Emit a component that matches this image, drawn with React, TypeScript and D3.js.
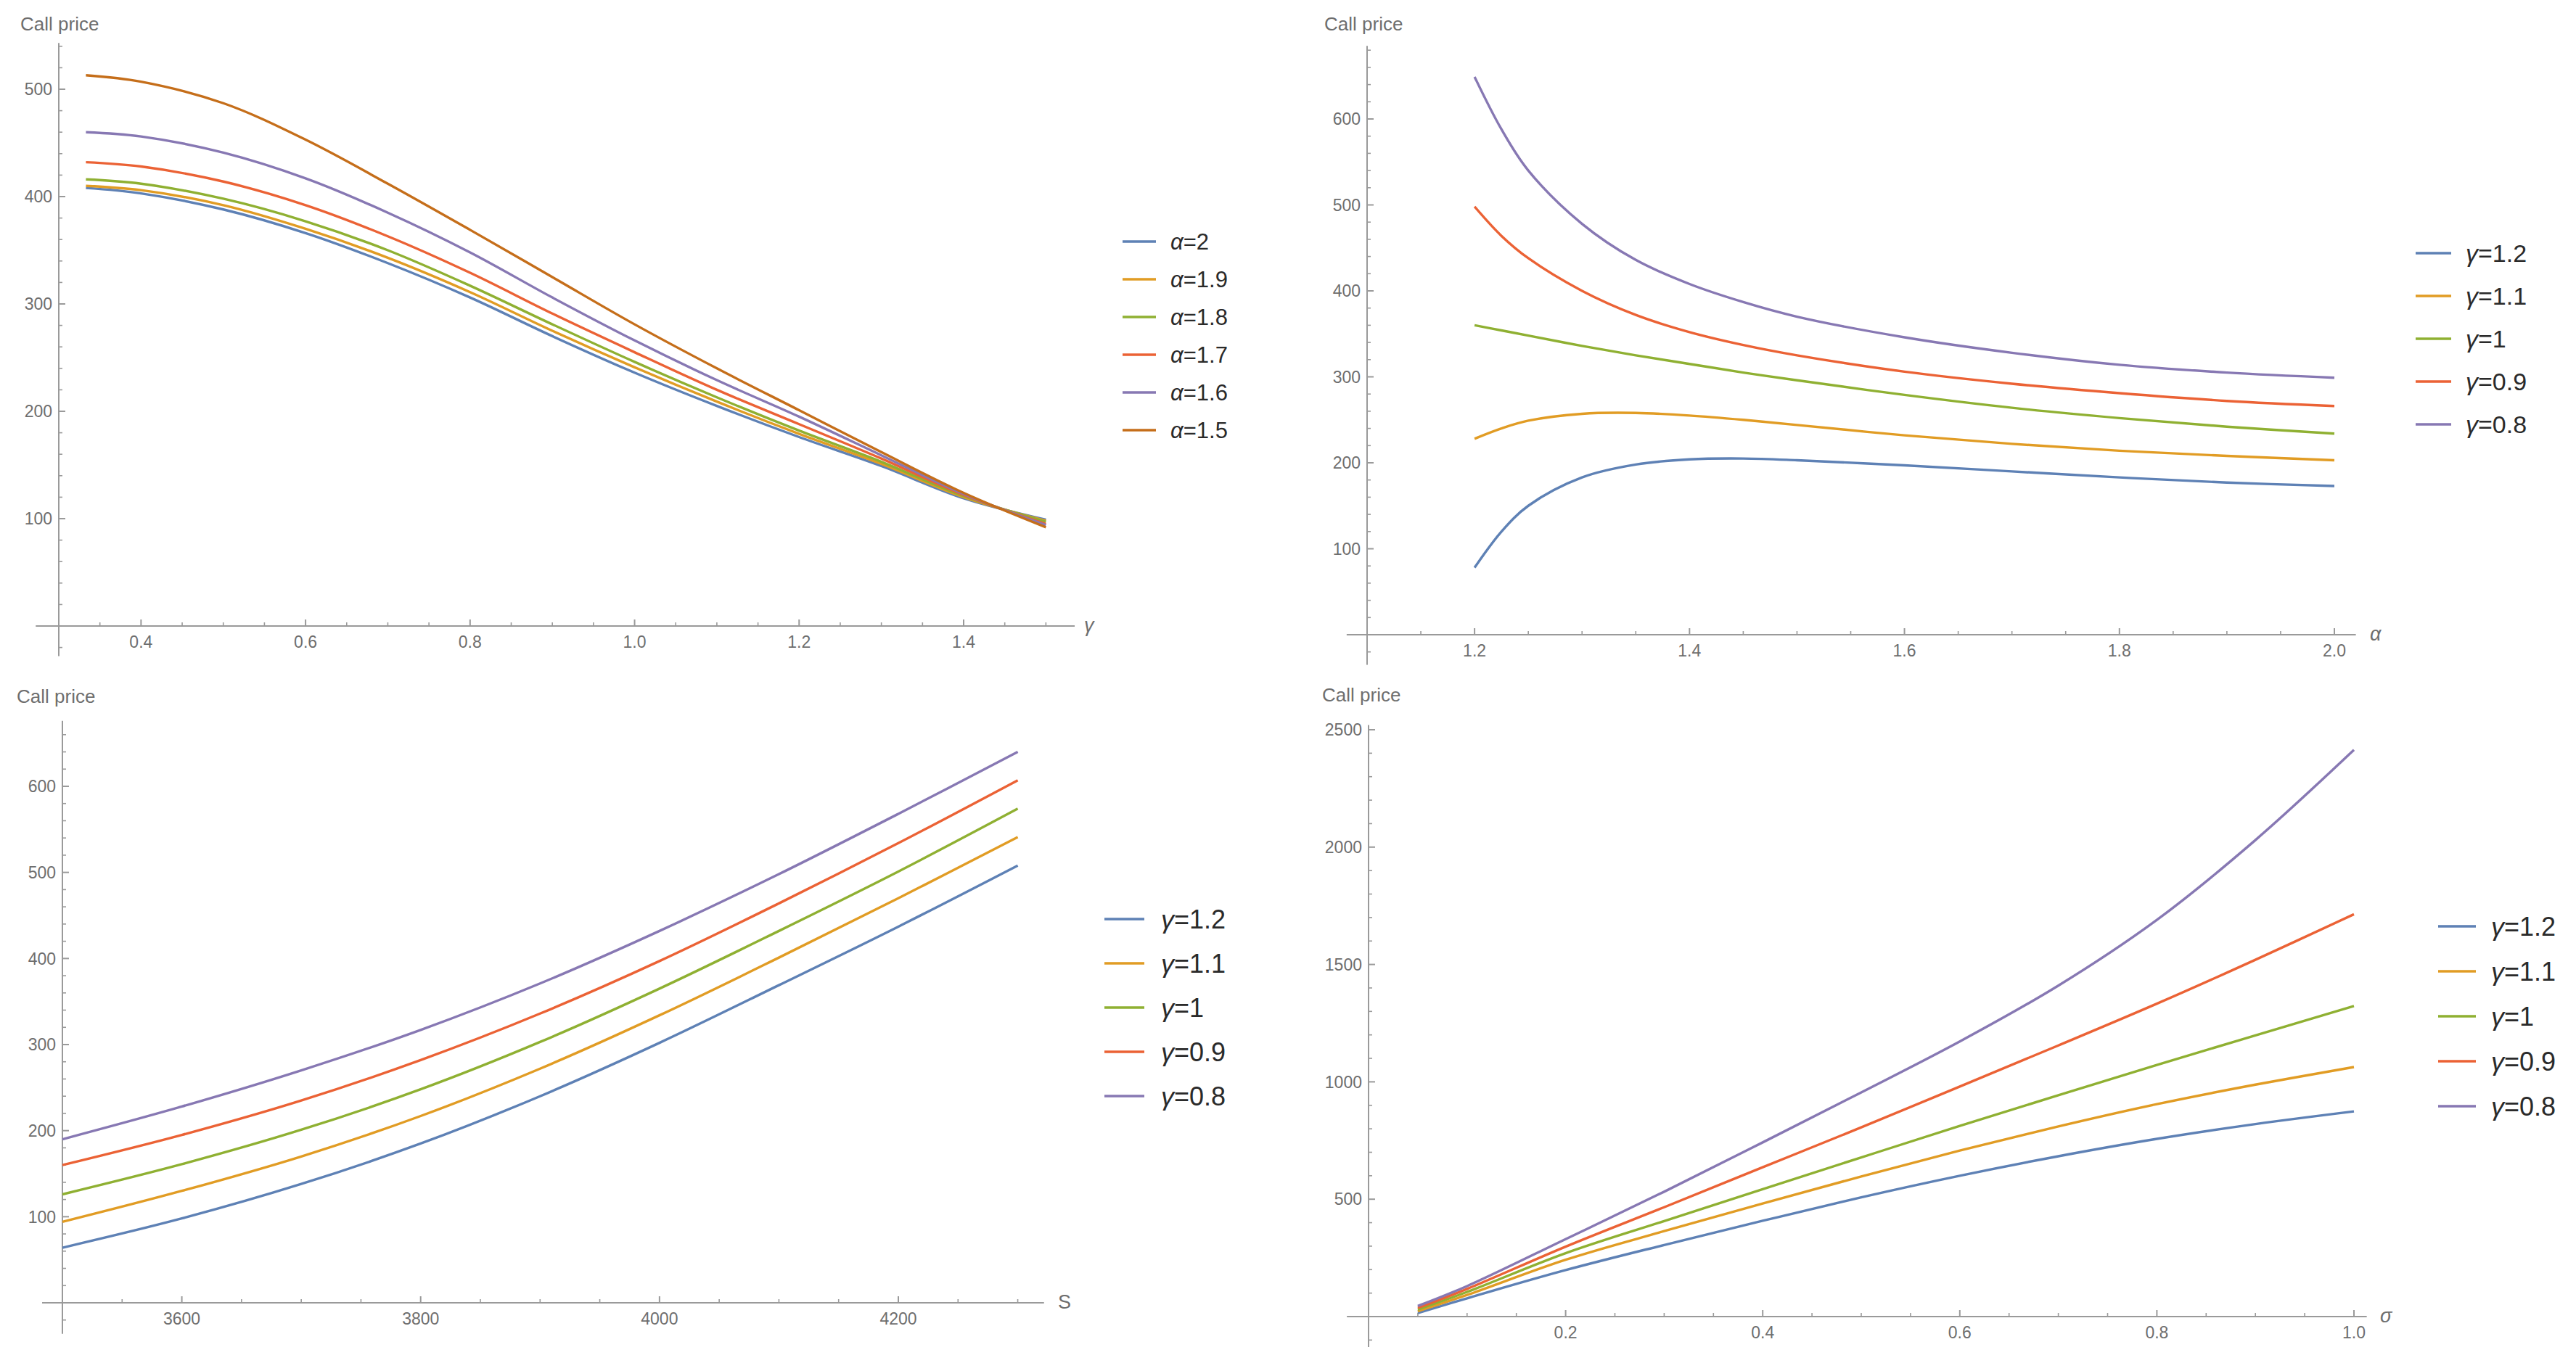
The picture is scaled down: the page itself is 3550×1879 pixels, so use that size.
import React from 'react';
import * as d3 from 'd3';

// Mathematica default plot colours
const palette = ['#5E81B5', '#E19C24', '#8FB032', '#EB6235', '#8778B3', '#C56E1A'];

// ---- panel A: call price vs gamma, one curve per alpha ----
const gammaGridA = [0.333, 0.4, 0.5, 0.6, 0.7, 0.8, 0.9, 1.0, 1.1, 1.2, 1.3, 1.4, 1.5];
const alphaLabelsA = ['2', '1.9', '1.8', '1.7', '1.6', '1.5'];
const priceAlpha20 = [408, 403, 388, 366, 338, 306, 270, 236, 205, 176, 149, 119, 99];
const priceAlpha19 = [410, 406, 392, 370, 343, 311, 275, 241, 209, 179, 151, 120, 98];
const priceAlpha18 = [416, 412, 398, 377, 350, 317, 281, 246, 213, 182, 153, 121, 97];
const priceAlpha17 = [432, 428, 414, 392, 363, 329, 291, 255, 220, 188, 156, 122, 95];
const priceAlpha16 = [460, 456, 441, 417, 385, 348, 306, 266, 229, 195, 159, 123, 94];
const priceAlpha15 = [513, 507, 487, 453, 412, 369, 325, 281, 240, 201, 162, 124, 92];
const xTicksA = [0.4, 0.6, 0.8, 1.0, 1.2, 1.4];
const yTicksA = [100, 200, 300, 400, 500];

// ---- panel B: call price vs alpha, one curve per gamma ----
const alphaGridB = [1.2, 1.225, 1.25, 1.3, 1.35, 1.4, 1.45, 1.5, 1.6, 1.7, 1.8, 1.9, 2.0];
const gammaLabels = ['1.2', '1.1', '1', '0.9', '0.8'];
const priceBGamma12 = [78, 120, 150, 183, 198, 204, 205, 203, 197, 190, 183, 177, 173];
const priceBGamma11 = [228, 240, 249, 257, 258, 255, 250, 244, 232, 222, 214, 208, 203];
const priceBGamma10 = [360, 354, 348, 336, 325, 315, 305, 296, 279, 264, 252, 242, 234];
const priceBGamma09 = [498, 464, 438, 400, 372, 352, 337, 325, 306, 292, 281, 272, 266];
const priceBGamma08 = [649, 588, 540, 478, 436, 408, 387, 370, 346, 328, 314, 305, 299];
const xTicksB = [1.2, 1.4, 1.6, 1.8, 2.0];
const yTicksB = [100, 200, 300, 400, 500, 600];

// ---- panel C: call price vs S ----
const spotGridC = [3500, 3600, 3700, 3800, 3900, 4000, 4100, 4200, 4300];
const priceCGamma12 = [64, 98, 138, 185, 240, 302, 369, 437, 508];
const priceCGamma11 = [94, 130, 170, 217, 272, 334, 401, 470, 541];
const priceCGamma10 = [126, 161, 201, 248, 303, 365, 432, 501, 574];
const priceCGamma09 = [160, 195, 235, 282, 336, 397, 464, 534, 607];
const priceCGamma08 = [190, 228, 270, 317, 371, 432, 498, 568, 640];
const xTicksC = [3600, 3800, 4000, 4200];
const yTicksC = [100, 200, 300, 400, 500, 600];

// ---- panel D: call price vs sigma ----
const sigmaGridD = [0.05, 0.1, 0.2, 0.3, 0.4, 0.5, 0.6, 0.7, 0.8, 0.9, 1.0];
const priceDGamma12 = [15, 78, 198, 305, 408, 508, 600, 683, 757, 820, 874];
const priceDGamma11 = [23, 92, 242, 364, 482, 597, 707, 810, 905, 988, 1063];
const priceDGamma10 = [30, 105, 270, 407, 543, 678, 812, 943, 1072, 1198, 1323];
const priceDGamma09 = [37, 118, 298, 466, 636, 806, 980, 1155, 1333, 1520, 1714];
const priceDGamma08 = [45, 130, 330, 532, 742, 955, 1172, 1410, 1690, 2030, 2414];
const xTicksD = [0.2, 0.4, 0.6, 0.8, 1.0];
const yTicksD = [500, 1000, 1500, 2000, 2500];

const FONT = '"Liberation Sans", Arial, "DejaVu Sans", sans-serif';
const AXIS = '#9a9a9a';
const TICKTXT = '#6e6e6e';

type Series = { label: string; values: number[]; color: string };

interface PanelCfg {
  grid: number[];
  series: Series[];
  greek: string;
  xDom: [number, number];
  xRng: [number, number];
  yDom: [number, number];
  yRng: [number, number];
  xExtent: [number, number];
  yExtent: [number, number];
  yAxisAt: number;
  xTicks: number[];
  yTicks: number[];
  xMinorStep: number;
  yMinorStep: number;
  xFmt: (v: number) => string;
  axisLabel: string;
  axisLabelItalic: boolean;
  axisLabelX: number;
  titleX: number;
  titleY: number;
  legendX: number;
  legendY: number;
  legendStep: number;
  legendFont: number;
  swatchLen: number;
  textOffset: number;
}

function minorTicks(lo: number, hi: number, step: number, majors: number[]) {
  const out: number[] = [];
  const n0 = Math.ceil(lo / step - 1e-6);
  const n1 = Math.floor(hi / step + 1e-6);
  for (let i = n0; i <= n1; i++) {
    const v = +(i * step).toFixed(6);
    if (!majors.some(m => Math.abs(m - v) < 1e-6)) out.push(v);
  }
  return out;
}

const Panel: React.FC<{ cfg: PanelCfg }> = ({ cfg }) => {
  const x = d3.scaleLinear().domain(cfg.xDom).range(cfg.xRng);
  const y = d3.scaleLinear().domain(cfg.yDom).range(cfg.yRng);
  const ax = x(cfg.yAxisAt);
  const ay = y(0);
  const line = d3
    .line<[number, number]>()
    .x(d => x(d[0]))
    .y(d => y(d[1]))
    .curve(d3.curveCatmullRom.alpha(0.5));

  const xMinor = minorTicks(cfg.xExtent[0], cfg.xExtent[1], cfg.xMinorStep, cfg.xTicks);
  const yMinor = minorTicks(cfg.yExtent[0], cfg.yExtent[1], cfg.yMinorStep, cfg.yTicks);

  return (
    <g>
      {/* axes */}
      <line x1={x(cfg.xExtent[0])} x2={x(cfg.xExtent[1])} y1={ay} y2={ay} stroke={AXIS} strokeWidth={2} />
      <line x1={ax} x2={ax} y1={y(cfg.yExtent[0])} y2={y(cfg.yExtent[1])} stroke={AXIS} strokeWidth={2} />

      {cfg.xTicks.map(t => (
        <g key={'xt' + t}>
          <line x1={x(t)} x2={x(t)} y1={ay} y2={ay - 9} stroke={AXIS} strokeWidth={2} />
          <text x={x(t)} y={ay + 30} textAnchor="middle" fontSize={23} fill={TICKTXT} fontFamily={FONT}>
            {cfg.xFmt(t)}
          </text>
        </g>
      ))}
      {xMinor.map(t => (
        <line key={'xm' + t} x1={x(t)} x2={x(t)} y1={ay} y2={ay - 5} stroke={AXIS} strokeWidth={1.6} />
      ))}
      {cfg.yTicks.map(t => (
        <g key={'yt' + t}>
          <line x1={ax} x2={ax + 9} y1={y(t)} y2={y(t)} stroke={AXIS} strokeWidth={2} />
          <text x={ax - 9} y={y(t)} dy="0.36em" textAnchor="end" fontSize={23} fill={TICKTXT} fontFamily={FONT}>
            {t}
          </text>
        </g>
      ))}
      {yMinor.map(t => (
        <line key={'ym' + t} x1={ax} x2={ax + 5} y1={y(t)} y2={y(t)} stroke={AXIS} strokeWidth={1.6} />
      ))}

      <text x={cfg.titleX} y={cfg.titleY} fontSize={26} fill={TICKTXT} fontFamily={FONT}>
        Call price
      </text>
      <text
        x={cfg.axisLabelX}
        y={ay}
        dy="0.3em"
        fontSize={27}
        fill={TICKTXT}
        fontFamily={FONT}
        fontStyle={cfg.axisLabelItalic ? 'italic' : 'normal'}
      >
        {cfg.axisLabel}
      </text>

      {/* curves */}
      {cfg.series.map(s => (
        <path
          key={s.label}
          d={line(cfg.grid.map((g, i) => [g, s.values[i]] as [number, number])) || ''}
          fill="none"
          stroke={s.color}
          strokeWidth={3.4}
          strokeLinejoin="round"
        />
      ))}

      {/* legend */}
      {cfg.series.map((s, i) => {
        const ly = cfg.legendY + i * cfg.legendStep;
        return (
          <g key={'lg' + s.label}>
            <line x1={cfg.legendX} x2={cfg.legendX + cfg.swatchLen} y1={ly} y2={ly} stroke={s.color} strokeWidth={3.6} />
            <text
              x={cfg.legendX + cfg.textOffset}
              y={ly}
              dy="0.36em"
              fontSize={cfg.legendFont}
              fill="#2a2a2a"
              fontFamily={FONT}
            >
              <tspan fontStyle="italic">{cfg.greek}</tspan>={s.label}
            </text>
          </g>
        );
      })}
    </g>
  );
};

const fmt1 = (v: number) => v.toFixed(1);

const panelA: PanelCfg = {
  grid: gammaGridA,
  series: [priceAlpha20, priceAlpha19, priceAlpha18, priceAlpha17, priceAlpha16, priceAlpha15].map((v, i) => ({
    label: alphaLabelsA[i],
    values: v,
    color: palette[i],
  })),
  greek: 'α',
  xDom: [0.3, 1.4],
  xRng: [81, 1328],
  yDom: [0, 500],
  yRng: [863, 123],
  xExtent: [0.272, 1.535],
  yExtent: [-28, 543],
  yAxisAt: 0.3,
  xTicks: xTicksA,
  yTicks: yTicksA,
  xMinorStep: 0.05,
  yMinorStep: 20,
  xFmt: fmt1,
  axisLabel: 'γ',
  axisLabelItalic: true,
  axisLabelX: 1494,
  titleX: 28,
  titleY: 42,
  legendX: 1547,
  legendY: 333,
  legendStep: 52,
  legendFont: 31,
  swatchLen: 46,
  textOffset: 66,
};

const gammaSeries = (vals: number[][]) =>
  vals.map((v, i) => ({ label: gammaLabels[i], values: v, color: palette[i] }));

const panelB: PanelCfg = {
  grid: alphaGridB,
  series: gammaSeries([priceBGamma12, priceBGamma11, priceBGamma10, priceBGamma09, priceBGamma08]),
  greek: 'γ',
  xDom: [1.1, 2.0],
  xRng: [1884, 3217],
  yDom: [0, 600],
  yRng: [875, 164],
  xExtent: [1.081, 2.02],
  yExtent: [-35, 685],
  yAxisAt: 1.1,
  xTicks: xTicksB,
  yTicks: yTicksB,
  xMinorStep: 0.05,
  yMinorStep: 20,
  xFmt: fmt1,
  axisLabel: 'α',
  axisLabelItalic: true,
  axisLabelX: 3266,
  titleX: 1825,
  titleY: 42,
  legendX: 3329,
  legendY: 349,
  legendStep: 59,
  legendFont: 34,
  swatchLen: 49,
  textOffset: 69,
};

const panelC: PanelCfg = {
  grid: spotGridC,
  series: gammaSeries([priceCGamma12, priceCGamma11, priceCGamma10, priceCGamma09, priceCGamma08]),
  greek: 'γ',
  xDom: [3500, 4200],
  xRng: [86, 1238],
  yDom: [0, 600],
  yRng: [1796, 1084],
  xExtent: [3483, 4322],
  yExtent: [-36, 676],
  yAxisAt: 3500,
  xTicks: xTicksC,
  yTicks: yTicksC,
  xMinorStep: 50,
  yMinorStep: 20,
  xFmt: (v: number) => String(v),
  axisLabel: 'S',
  axisLabelItalic: false,
  axisLabelX: 1458,
  titleX: 23,
  titleY: 969,
  legendX: 1522,
  legendY: 1267,
  legendStep: 61,
  legendFont: 36,
  swatchLen: 55,
  textOffset: 78,
};

const panelD: PanelCfg = {
  grid: sigmaGridD,
  series: gammaSeries([priceDGamma12, priceDGamma11, priceDGamma10, priceDGamma09, priceDGamma08]),
  greek: 'γ',
  xDom: [0, 1.0],
  xRng: [1886, 3244],
  yDom: [0, 2500],
  yRng: [1815, 1006],
  xExtent: [-0.022, 1.013],
  yExtent: [-130, 2520],
  yAxisAt: 0,
  xTicks: xTicksD,
  yTicks: yTicksD,
  xMinorStep: 0.05,
  yMinorStep: 100,
  xFmt: fmt1,
  axisLabel: 'σ',
  axisLabelItalic: true,
  axisLabelX: 3280,
  titleX: 1822,
  titleY: 967,
  legendX: 3360,
  legendY: 1277,
  legendStep: 62,
  legendFont: 36,
  swatchLen: 52,
  textOffset: 73,
};

export default function App() {
  return (
    <svg
      width={3550}
      height={1879}
      style={{ position: 'absolute', left: 0, top: 0, background: '#fff' }}
    >
      <rect width={3550} height={1879} fill="#fff" />
      <Panel cfg={panelA} />
      <Panel cfg={panelB} />
      <Panel cfg={panelC} />
      <Panel cfg={panelD} />
    </svg>
  );
}
